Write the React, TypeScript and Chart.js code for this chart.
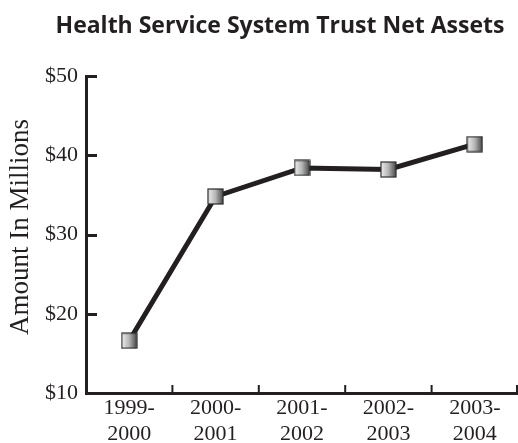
import React, { useEffect, useRef } from "react";
import { Chart, registerables } from "chart.js";

Chart.register(...registerables);

const TITLE = "Health Service System Trust Net Assets";
const Y_TITLE = "Amount In Millions";
const categories: string[][] = [
  ["1999-", "2000"],
  ["2000-", "2001"],
  ["2001-", "2002"],
  ["2002-", "2003"],
  ["2003-", "2004"],
];
const netAssets: number[] = [16.6, 34.8, 38.4, 38.2, 41.4];
const yMin = 10;
const yMax = 50;
const yStep = 10;

const INK = "#231f20";
const SERIF = "'Liberation Serif', 'DejaVu Serif', serif";

function makeMarker(): HTMLCanvasElement {
  const size = 17;
  const c = document.createElement("canvas");
  c.width = size;
  c.height = size;
  const g = c.getContext("2d")!;
  const grad = g.createLinearGradient(1, 0, size - 1, 0);
  grad.addColorStop(0, "#eeeeee");
  grad.addColorStop(0.5, "#b4b4b4");
  grad.addColorStop(1, "#4a4a4a");
  g.fillStyle = grad;
  g.fillRect(1, 1, size - 2, size - 2);
  g.strokeStyle = "#2a2a2a";
  g.lineWidth = 1.2;
  g.strokeRect(1, 1, size - 2, size - 2);
  return c;
}

export default function App() {
  const ref = useRef<HTMLCanvasElement | null>(null);

  useEffect(() => {
    if (!ref.current) return;
    const marker = makeMarker();

    const decor = {
      id: "decor",
      afterDraw(chart: any) {
        const ctx = chart.ctx as CanvasRenderingContext2D;
        const xs = chart.scales.x;
        const ys = chart.scales.y;
        const area = chart.chartArea;
        ctx.save();
        // title
        ctx.fillStyle = INK;
        ctx.font = "bold 23px 'Open Sans', sans-serif";
        ctx.textAlign = "center";
        ctx.textBaseline = "alphabetic";
        ctx.fillText(TITLE, 280, 33);
        // y axis title
        ctx.save();
        ctx.translate(28, 227);
        ctx.rotate(-Math.PI / 2);
        ctx.font = `27px ${SERIF}`;
        ctx.textAlign = "center";
        ctx.textBaseline = "alphabetic";
        ctx.fillText(Y_TITLE, 0, 0);
        ctx.restore();
        // inner ticks
        ctx.strokeStyle = INK;
        ctx.lineWidth = 3;
        ctx.lineCap = "butt";
        for (let v = yMin + yStep; v <= yMax; v += yStep) {
          const y = Math.round(ys.getPixelForValue(v)) + 0.5;
          ctx.beginPath();
          ctx.moveTo(area.left, y);
          ctx.lineTo(area.left + 11, y);
          ctx.stroke();
        }
        ctx.lineWidth = 2;
        const n = categories.length;
        for (let i = 1; i <= n; i++) {
          const x =
            i < n
              ? (xs.getPixelForValue(i - 1) + xs.getPixelForValue(i)) / 2
              : area.right - 1;
          ctx.beginPath();
          ctx.moveTo(x, area.bottom);
          ctx.lineTo(x, area.bottom - 8);
          ctx.stroke();
        }
        ctx.restore();
      },
    };

    const chart = new Chart(ref.current, {
      type: "line",
      data: {
        labels: categories,
        datasets: [
          {
            data: netAssets,
            borderColor: INK,
            borderWidth: 5,
            pointStyle: marker as any,
            pointRadius: 8,
            pointHoverRadius: 8,
            tension: 0,
          },
        ],
      },
      options: {
        responsive: false,
        animation: false,
        events: [],
        layout: { autoPadding: false, padding: { top: 76, right: 0, left: 0, bottom: 0 } },
        plugins: {
          legend: { display: false },
          tooltip: { enabled: false },
          title: { display: false },
        },
        scales: {
          x: {
            offset: true,
            grid: { display: false, drawTicks: false },
            border: { display: true, color: INK, width: 3 },
            ticks: {
              color: INK,
              font: { family: SERIF, size: 22, lineHeight: 1.2 },
              padding: 2,
              maxRotation: 0,
              autoSkip: false,
            },
            afterFit: (s: any) => {
              s.height = 50;
              s.paddingLeft = 0;
              s.paddingRight = 0;
            },
          },
          y: {
            min: yMin,
            max: yMax,
            grid: { display: false, drawTicks: false },
            border: { display: true, color: INK, width: 3 },
            ticks: {
              stepSize: yStep,
              color: INK,
              font: { family: SERIF, size: 22 },
              padding: 8,
              callback: (v: any) => "$" + v,
            },
            afterFit: (s: any) => {
              s.width = 86;
              s.paddingTop = 0;
              s.paddingBottom = 0;
            },
          },
        },
      },
      plugins: [decor],
    });
    return () => chart.destroy();
  }, []);

  return (
    <div style={{ position: "absolute", left: 0, top: 0, width: 518, height: 443, background: "#fff" }}>
      <canvas ref={ref} width={518} height={443} />
    </div>
  );
}
